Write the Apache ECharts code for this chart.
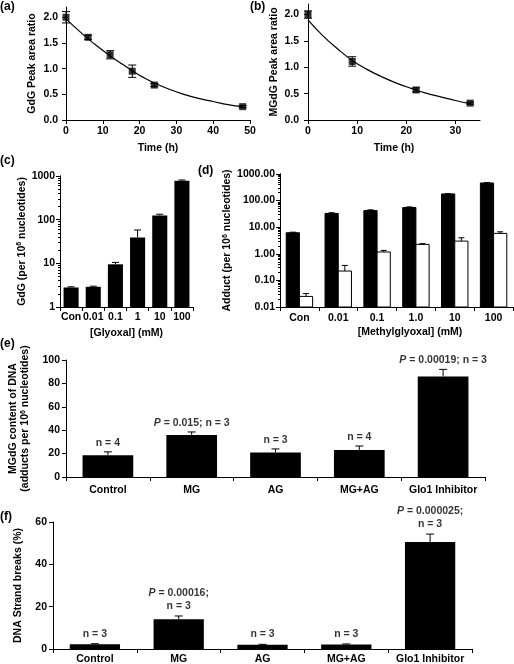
<!DOCTYPE html>
<html><head><meta charset="utf-8">
<script src="https://cdn.jsdelivr.net/npm/echarts@6/dist/echarts.min.js"></script>
<style>html,body{margin:0;padding:0;background:#fff}#c{width:514px;height:664px}</style>
</head><body><div id="c"></div>
<script>
// ---- data ----
const timeA = [0, 6, 12, 18, 24, 48];
const gdgA = [2.0, 1.61, 1.27, 0.95, 0.68, 0.26];
const gdgErrA = [0.11, 0.04, 0.08, 0.12, 0.03, 0.02];
const fitTimeA = [0, 3, 6, 9, 12, 15, 18, 21, 24, 28, 32, 36, 40, 44, 48];
const fitA = [1.97, 1.77, 1.58, 1.41, 1.25, 1.10, 0.96, 0.83, 0.72, 0.60, 0.50, 0.42, 0.36, 0.30, 0.26];
const yTicksA = [0, 0.5, 1, 1.5, 2];

const timeB = [0, 9, 22, 33];
const mgdgB = [2.0, 1.11, 0.57, 0.32];
const mgdgErrB = [0.07, 0.09, 0.04, 0.02];
const fitTimeB = [0, 3, 6, 9, 12, 15, 18, 21, 24, 27, 30, 33];
const fitB = [1.90, 1.60, 1.35, 1.13, 0.96, 0.82, 0.70, 0.60, 0.51, 0.44, 0.37, 0.31];
const xTicksB = [0, 10, 20, 30];

const glyoxalCats = ['Con', '0.01', '0.1', '1', '10', '100'];
const gdgC = [2.8, 2.9, 9.5, 39, 125, 780];
const gdgErrC = [0.1, 0.1, 1.0, 19, 8, 30];
const majorC = [1, 10, 100, 1000];
const minorC = [2,3,4,5,6,7,8,9,20,30,40,50,60,70,80,90,200,300,400,500,600,700,800,900];

const mgCats = ['Con', '0.01', '0.1', '1.0', '10', '100'];
const mgdgD = [6.2, 33, 42, 55, 178, 460];
const mgdgErrD = [0.3, 2, 3, 3, 5, 15];
const cedgD = [0.025, 0.225, 1.17, 2.26, 3.0, 5.85];
const cedgErrD = [0.007, 0.14, 0.17, 0.15, 1.0, 0.85];
const majorD = [0.01, 0.1, 1, 10, 100, 1000];
const minorD = [0.02,0.03,0.04,0.05,0.06,0.07,0.08,0.09,0.2,0.3,0.4,0.5,0.6,0.7,0.8,0.9,2,3,4,5,6,7,8,9,20,30,40,50,60,70,80,90,200,300,400,500,600,700,800,900];

const treatCats = ['Control', 'MG', 'AG', 'MG+AG', 'Glo1 Inhibitor'];
const mgdgE = [18.5, 36, 21, 23, 86];
const mgdgErrE = [3, 2.5, 3, 3.5, 6];
const annE = ['n = 4', '{i|P} = 0.015; n = 3', 'n = 3', 'n = 4', '{i|P} = 0.00019; n = 3'];

const breaksF = [2.2, 14, 2, 2.1, 50.5];
const breaksErrF = [0.3, 1.6, 0.2, 0.3, 3.8];
const annF = ['n = 3', '{i|P} = 0.00016;\nn = 3', 'n = 3', 'n = 3', '{i|P} = 0.000025;\nn = 3'];

// ---- styling helpers ----
const FONT = '"Liberation Sans", Arial, Helvetica, sans-serif';
const T = { color: '#000', fontFamily: FONT, fontSize: 10.5, fontWeight: 'bold' };
const RICH = {
  s: { fontFamily: FONT, fontSize: 7, fontWeight: 'bold', color: '#000', verticalAlign: 'top', lineHeight: 8 },
  i: { fontFamily: FONT, fontSize: 10.5, fontWeight: 'bold', fontStyle: 'italic', color: '#000' }
};
const LINE = { show: true, lineStyle: { color: '#000', width: 1 } };

function axis(o) {
  const a = Object.assign({
    axisLine: LINE,
    axisTick: { show: true, length: 4, lineStyle: { color: '#000', width: 1 } },
    splitLine: { show: false },
    nameLocation: 'middle',
    nameTextStyle: Object.assign({}, T, { rich: RICH, lineHeight: 12 })
  }, o);
  a.axisLabel = Object.assign({}, T, o.axisLabel || {});
  return a;
}

function errBars(opt) {
  return function (params, api) {
    const x = api.value(0), v = api.value(1), e = api.value(2);
    const p = api.coord([x, v]);
    let cx = p[0];
    if (opt.off) {
      const cw = api.coord([1, v])[0] - api.coord([0, v])[0];
      cx += opt.off * cw;
    }
    const top = api.coord([x, v + e])[1];
    const bot = opt.both ? api.coord([x, v - e])[1] : p[1];
    const h = opt.cap / 2;
    const st = { stroke: '#000', lineWidth: 1 };
    const ch = [
      { type: 'line', shape: { x1: cx, y1: top, x2: cx, y2: bot }, style: st },
      { type: 'line', shape: { x1: cx - h, y1: top, x2: cx + h, y2: top }, style: st }
    ];
    if (opt.both) ch.push({ type: 'line', shape: { x1: cx - h, y1: bot, x2: cx + h, y2: bot }, style: st });
    return { type: 'group', children: ch };
  };
}

const D_MIN = 0.01;
function dBars(off, fill) {
  return function (params, api) {
    const i = api.value(0), v = api.value(1);
    const p = api.coord([i, v]);
    const base = api.coord([i, D_MIN])[1];
    const cw = api.coord([1, v])[0] - api.coord([0, v])[0];
    const bw = cw * 0.34;
    const cx = p[0] + off * cw;
    return { type: 'rect', shape: { x: cx - bw / 2, y: p[1], width: bw, height: base - p[1] },
      style: { fill: fill, stroke: '#000', lineWidth: 1 } };
  };
}

const zip3 = (xs, vs, es) => vs.map((v, i) => [xs[i], v, es[i]]);
const idx = a => a.map((_, i) => i);

const chart = echarts.init(document.getElementById('c'), null, { renderer: 'canvas' });
const option = {
  animation: false,
  backgroundColor: '#fff',
  textStyle: { fontFamily: FONT },
  grid: [
    { left: 66, top: 7, width: 184, height: 113, outerBoundsMode: 'none' },
    { left: 308, top: 4, width: 172, height: 116, outerBoundsMode: 'none' },
    { left: 60, top: 176, width: 133, height: 131, outerBoundsMode: 'none' },
    { left: 280, top: 174, width: 233, height: 133, outerBoundsMode: 'none' },
    { left: 66, top: 360, width: 419, height: 117, outerBoundsMode: 'none' },
    { left: 53, top: 522, width: 419, height: 127, outerBoundsMode: 'none' }
  ],
  xAxis: [
    axis({ gridIndex: 0, type: 'value', min: 0, max: 50, interval: 10, name: 'Time (h)', nameGap: 22,
      axisLabel: { margin: 6 } }),
    axis({ gridIndex: 1, type: 'value', min: 0, max: 35, name: 'Time (h)', nameGap: 22,
      axisLabel: { margin: 6, customValues: xTicksB },
      axisTick: { show: true, length: 4, customValues: xTicksB, lineStyle: { color: '#000' } } }),
    axis({ gridIndex: 2, type: 'category', data: glyoxalCats, name: '[Glyoxal] (mM)', nameGap: 20,
      axisLabel: { interval: 0, margin: 5 } }),
    axis({ gridIndex: 3, type: 'category', data: mgCats, name: '[Methylglyoxal] (mM)', nameGap: 20,
      nameTextStyle: Object.assign({}, T, { padding: [0, 0, 0, 27] }),
      axisLabel: { interval: 0, margin: 6 } }),
    axis({ gridIndex: 4, type: 'category', data: treatCats, axisLabel: { interval: 0, margin: 8 } }),
    axis({ gridIndex: 5, type: 'category', data: treatCats, axisLabel: { interval: 0, margin: 5 } })
  ],
  yAxis: [
    axis({ gridIndex: 0, type: 'value', min: 0, max: 2.2, name: 'GdG Peak area ratio', nameGap: 28,
      axisLabel: { margin: 8, customValues: yTicksA, formatter: v => v.toFixed(1) },
      axisTick: { show: true, length: 4, customValues: yTicksA, lineStyle: { color: '#000' } } }),
    axis({ gridIndex: 1, type: 'value', min: 0, max: 2.2, name: 'MGdG Peak area ratio', nameGap: 27,
      axisLabel: { margin: 9, customValues: yTicksA, formatter: v => v.toFixed(1) },
      axisTick: { show: true, length: 4, customValues: yTicksA, lineStyle: { color: '#000' } } }),
    axis({ gridIndex: 2, type: 'log', logBase: 10, min: 1, max: 1000, position: 'left',
      name: 'GdG (per 10{s|6} nucleotides)', nameGap: 31,
      axisLabel: { margin: 5, customValues: majorC, formatter: v => String(Math.round(v)) },
      axisTick: { show: true, length: 4, customValues: majorC, lineStyle: { color: '#000' } } }),
    axis({ gridIndex: 2, type: 'log', logBase: 10, min: 1, max: 1000, position: 'left', offset: 0,
      axisLabel: { show: false },
      axisTick: { show: true, length: 2, customValues: minorC, lineStyle: { color: '#000' } } }),
    axis({ gridIndex: 3, type: 'log', logBase: 10, min: D_MIN, max: 1000, position: 'left',
      name: 'Adduct (per 10{s|6} nucleotides)', nameGap: 46,
      axisLabel: { margin: 5, customValues: majorD, formatter: v => v.toFixed(2) },
      axisTick: { show: true, length: 4, customValues: majorD, lineStyle: { color: '#000' } } }),
    axis({ gridIndex: 3, type: 'log', logBase: 10, min: D_MIN, max: 1000, position: 'left', offset: 0,
      axisLabel: { show: false },
      axisTick: { show: true, length: 2, customValues: minorD, lineStyle: { color: '#000' } } }),
    axis({ gridIndex: 4, type: 'value', min: 0, max: 100, interval: 20,
      name: 'MGdG content of DNA\n(adducts per 10{s|6} nucleotides)', nameGap: 23,
      axisLabel: { margin: 6 } }),
    axis({ gridIndex: 5, type: 'value', min: 0, max: 60, interval: 20,
      name: 'DNA Strand breaks (%)', nameGap: 26, axisLabel: { margin: 6 } })
  ],
  series: [
    // (a)
    { type: 'line', xAxisIndex: 0, yAxisIndex: 0, data: fitTimeA.map((t, i) => [t, fitA[i]]), smooth: true,
      showSymbol: false, lineStyle: { color: '#000', width: 1.2 }, silent: true },
    { type: 'custom', xAxisIndex: 0, yAxisIndex: 0, renderItem: errBars({ both: true, cap: 8 }),
      data: zip3(timeA, gdgA, gdgErrA), silent: true },
    { type: 'scatter', xAxisIndex: 0, yAxisIndex: 0, symbol: 'rect', symbolSize: 7,
      itemStyle: { color: '#000' }, data: timeA.map((t, i) => [t, gdgA[i]]), z: 5 },
    // (b)
    { type: 'line', xAxisIndex: 1, yAxisIndex: 1, data: fitTimeB.map((t, i) => [t, fitB[i]]), smooth: true,
      showSymbol: false, lineStyle: { color: '#000', width: 1.2 }, silent: true },
    { type: 'custom', xAxisIndex: 1, yAxisIndex: 1, renderItem: errBars({ both: true, cap: 8 }),
      data: zip3(timeB, mgdgB, mgdgErrB), silent: true },
    { type: 'scatter', xAxisIndex: 1, yAxisIndex: 1, symbol: 'rect', symbolSize: 7,
      itemStyle: { color: '#000' }, data: timeB.map((t, i) => [t, mgdgB[i]]), z: 5 },
    // (c)
    { type: 'bar', xAxisIndex: 2, yAxisIndex: 2, data: gdgC, barCategoryGap: '32%',
      itemStyle: { color: '#000' } },
    { type: 'custom', xAxisIndex: 2, yAxisIndex: 2, renderItem: errBars({ cap: 7 }),
      data: zip3(idx(gdgC), gdgC, gdgErrC), z: 3, silent: true },
    // (d)
    { type: 'custom', xAxisIndex: 3, yAxisIndex: 4, renderItem: dBars(-0.17, '#000'),
      data: zip3(idx(mgdgD), mgdgD, mgdgErrD), silent: true },
    { type: 'custom', xAxisIndex: 3, yAxisIndex: 4, renderItem: dBars(0.17, '#fff'),
      data: zip3(idx(cedgD), cedgD, cedgErrD), silent: true },
    { type: 'custom', xAxisIndex: 3, yAxisIndex: 4, renderItem: errBars({ cap: 6, off: -0.17 }),
      data: zip3(idx(mgdgD), mgdgD, mgdgErrD), z: 3, silent: true },
    { type: 'custom', xAxisIndex: 3, yAxisIndex: 4, renderItem: errBars({ cap: 6, off: 0.17 }),
      data: zip3(idx(cedgD), cedgD, cedgErrD), z: 3, silent: true },
    // (e)
    { type: 'bar', xAxisIndex: 4, yAxisIndex: 6, data: mgdgE, barCategoryGap: '39.5%',
      itemStyle: { color: '#000' } },
    { type: 'custom', xAxisIndex: 4, yAxisIndex: 6, renderItem: errBars({ cap: 8 }),
      data: zip3(idx(mgdgE), mgdgE, mgdgErrE), z: 3, silent: true },
    { type: 'scatter', xAxisIndex: 4, yAxisIndex: 6, symbolSize: 1, itemStyle: { color: 'rgba(0,0,0,0)' },
      data: mgdgE.map((v, i) => [i, v + mgdgErrE[i]]), silent: true,
      label: Object.assign({ show: true, position: 'top', distance: 3, rich: RICH,
        formatter: p => annE[p.dataIndex] }, T) },
    // (f)
    { type: 'bar', xAxisIndex: 5, yAxisIndex: 7, data: breaksF, barCategoryGap: '40%',
      itemStyle: { color: '#000' } },
    { type: 'custom', xAxisIndex: 5, yAxisIndex: 7, renderItem: errBars({ cap: 8 }),
      data: zip3(idx(breaksF), breaksF, breaksErrF), z: 3, silent: true },
    { type: 'scatter', xAxisIndex: 5, yAxisIndex: 7, symbolSize: 1, itemStyle: { color: 'rgba(0,0,0,0)' },
      data: breaksF.map((v, i) => [i, v + breaksErrF[i]]), silent: true,
      label: Object.assign({ show: true, position: 'top', distance: 3, lineHeight: 13, rich: RICH,
        formatter: p => annF[p.dataIndex] }, T) }
  ],
  graphic: [
    { type: 'text', left: 0, top: 1, style: { text: '(a)', font: 'bold 12px ' + FONT, fill: '#000' } },
    { type: 'text', left: 250, top: 1, style: { text: '(b)', font: 'bold 12px ' + FONT, fill: '#000' } },
    { type: 'text', left: 0, top: 155, style: { text: '(c)', font: 'bold 12px ' + FONT, fill: '#000' } },
    { type: 'text', left: 198, top: 165, style: { text: '(d)', font: 'bold 12px ' + FONT, fill: '#000' } },
    { type: 'text', left: 0, top: 338, style: { text: '(e)', font: 'bold 12px ' + FONT, fill: '#000' } },
    { type: 'text', left: 0, top: 511, style: { text: '(f)', font: 'bold 12px ' + FONT, fill: '#000' } }
  ]
};
chart.setOption(option);
</script>
</body></html>
